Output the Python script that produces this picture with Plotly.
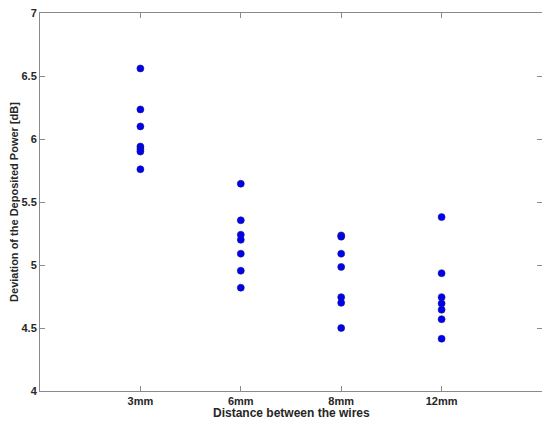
import plotly.graph_objects as go

categories = ["3mm", "6mm", "8mm", "12mm"]
values_3mm = [6.56, 6.235, 6.10, 5.94, 5.92, 5.90, 5.76]
values_6mm = [5.645, 5.355, 5.24, 5.20, 5.09, 4.955, 4.82]
values_8mm = [5.235, 5.225, 5.09, 4.985, 4.745, 4.70, 4.50]
values_12mm = [5.38, 4.935, 4.745, 4.695, 4.645, 4.57, 4.415]
y_ticks = [4, 4.5, 5, 5.5, 6, 6.5, 7]

groups = [values_3mm, values_6mm, values_8mm, values_12mm]
xs, ys = [], []
for i, vals in enumerate(groups):
    xs += [i + 1] * len(vals)
    ys += vals

fig = go.Figure(go.Scatter(
    x=xs, y=ys, mode="markers",
    marker=dict(color="#0000f0", size=7, line=dict(color="#1a1a80", width=0.6)),
    showlegend=False,
))

axis_common = dict(
    showline=True, linecolor="#8a8a8a", linewidth=1, mirror="ticks",
    ticks="inside", ticklen=5, tickcolor="#8a8a8a", showgrid=False, zeroline=False,
    automargin=False, ticklabeloverflow="allow",
    tickfont=dict(family="Liberation Sans, Arial", size=11, color="#262626"),
)
fig.update_xaxes(
    range=[0, 5], tickvals=[1, 2, 3, 4], ticktext=["<b>%s</b>" % c for c in categories],
    **axis_common,
)
fig.update_yaxes(
    range=[4, 7], tickvals=y_ticks, ticktext=["<b>%s</b>" % v for v in y_ticks],
    title=dict(text="<b>Deviation of the Deposited Power [dB]</b>", standoff=3,
               font=dict(family="Liberation Sans, Arial", size=11, color="#262626")),
    **axis_common,
)
fig.add_annotation(
    text="<b>Distance between the wires</b>", xref="paper", yref="paper",
    x=0.5, y=-22 / 378, xanchor="center", yanchor="middle", showarrow=False,
    font=dict(family="Liberation Sans, Arial", size=12, color="#262626"),
)
fig.update_layout(
    width=542, height=414,
    margin=dict(l=32, r=8, t=5, b=31),
    plot_bgcolor="white", paper_bgcolor="white",
)
fig.write_html("out.html")
